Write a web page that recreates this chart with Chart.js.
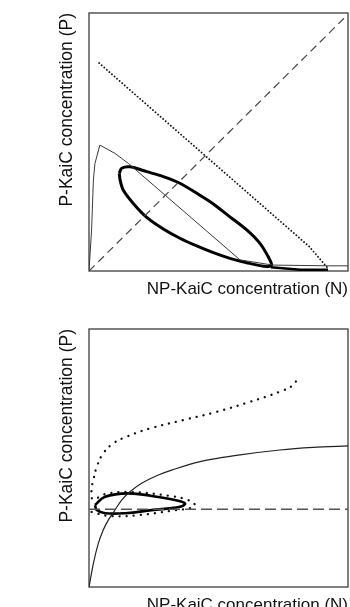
<!DOCTYPE html>
<html><head><meta charset="utf-8">
<script src="https://cdn.jsdelivr.net/npm/chart.js@4.4.1/dist/chart.umd.min.js"></script>
<style>
html,body{margin:0;padding:0;background:#fff;overflow:hidden;width:350px;height:607px;}
canvas{position:absolute;left:0;}
#c1{top:0}
#c2{top:316px}
</style></head><body>
<canvas id="c1" width="350" height="300"></canvas>
<canvas id="c2" width="350" height="300"></canvas>
<script>
const xTitle = 'NP-KaiC concentration (N)';
const yTitle = 'P-KaiC concentration (P)';

// ---- Top panel (N on x, P on y, 0-100 relative units) ----
const topDiagN = [0, 99];
const topDiagP = [0, 98.5];
const topDotN = [3.9, 85, 92.3];
const topDotP = [80.6, 9.5, 1.0];
const topThinN = [0, 1.0, 1.7, 2.3, 4.2, 10.0, 15.2, 58.3, 70.9, 93, 100];
const topThinP = [0, 15.9, 35.3, 41.7, 48.8, 45.6, 41.7, 4.3, 2.3, 2.0, 2.0];
const topLoopN = [11.7, 12.6, 15.8, 22.3, 28.7, 35.1, 41.6, 48.0, 54.4, 60.9, 66.0, 69.2, 70.5, 68.6, 60.9, 54.4, 48.0, 41.6, 35.1, 28.7, 22.3, 17.1, 13.2, 12.0, 11.7];
const topLoopP = [37.9, 39.8, 40.4, 38.5, 36.6, 34.0, 30.1, 26.0, 21.0, 15.9, 10.7, 5.5, 2.3, 1.7, 3.2, 4.9, 7.1, 9.7, 12.7, 16.3, 20.8, 26.2, 31.4, 35.3, 37.9];
const topTailN = [70.2, 81.5, 92.3];
const topTailP = [1.5, 0.5, 0.5];

// ---- Bottom panel ----
const botDashN = [0, 100];
const botDashP = [30.1, 30.1];
const botThinN = [0, 1.7, 3.6, 5.5, 7.5, 10.0, 12.6, 15.8, 20.3, 26.8, 31.9, 42.9, 58.3, 73.7, 86.6, 100];
const botThinP = [0, 9.2, 16.9, 22.1, 26.0, 29.8, 33.7, 36.9, 40.2, 43.4, 45.3, 48.6, 51.2, 53.1, 54.1, 54.7];
const botLoopN = [2.3, 6.2, 15.2, 24.2, 33.2, 37.1, 35.1, 24.2, 13.9, 6.2, 3.0, 2.3];
const botLoopP = [31.8, 35.0, 36.3, 35.3, 33.7, 32.4, 31.1, 29.8, 28.6, 28.6, 29.8, 31.8];
const botDotN = [1.0, 8.1, 19.7, 31.3, 39.0, 40.9, 38.3, 31.3, 15.8, 6.2, 1.5, 1.0, 1.7, 3.0, 5.5, 9.4, 14.6, 23.6, 36.4, 49.3, 62.2, 73.7, 78.9, 80.4];
const botDotP = [29.1, 27.5, 27.9, 29.5, 30.6, 31.8, 33.7, 35.3, 36.8, 36.0, 34.0, 38.0, 41.5, 46.6, 51.8, 55.7, 58.3, 61.5, 64.7, 67.9, 71.8, 75.7, 78.3, 80.6];

const zip = (a, b) => a.map((v, i) => ({x: v, y: b[i]}));
const FONT = '"Liberation Sans", Arial, Helvetica, sans-serif';

const framePlugin = {
  id: 'frame',
  beforeDatasetsDraw(chart) {
    const {ctx, chartArea: a} = chart;
    ctx.save();
    ctx.strokeStyle = '#4a4a4a';
    ctx.lineWidth = 1.4;
    ctx.strokeRect(a.left, a.top, a.right - a.left, a.bottom - a.top);
    ctx.restore();
  }
};

function scales() {
  return {
    x: {
      type: 'linear', min: 0, max: 100,
      ticks: {display: false}, grid: {display: false, drawTicks: false}, border: {display: false},
      title: {display: true, text: xTitle, align: 'end', color: '#111', font: {family: FONT, size: 17}, padding: {top: 0, bottom: 0}},
      afterFit(s) { s.height = 29; }
    },
    y: {
      type: 'linear', min: 0, max: 100,
      ticks: {display: false}, grid: {display: false, drawTicks: false}, border: {display: false},
      title: {display: true, text: yTitle, align: 'end', color: '#111', font: {family: FONT, size: 17.5}, padding: {top: 57, bottom: 0}},
      afterFit(s) { s.width = 89; }
    }
  };
}

function line(data, o) {
  return Object.assign({data, showLine: true, pointRadius: 0, fill: false, tension: 0, borderColor: '#000', borderWidth: 1}, o);
}

function make(id, datasets) {
  new Chart(document.getElementById(id), {
    type: 'scatter',
    data: {datasets},
    options: {
      responsive: false, animation: false, events: [],
      layout: {padding: {left: 0, right: 2, top: 13, bottom: 0}},
      plugins: {legend: {display: false}, tooltip: {enabled: false}},
      scales: scales()
    },
    plugins: [framePlugin]
  });
}

make('c1', [
  line(zip(topDiagN, topDiagP), {borderColor: '#444', borderWidth: 1.2, borderDash: [8, 5]}),
  line(zip(topDotN, topDotP), {borderColor: '#111', borderWidth: 1.8, borderDash: [0.1, 3.3], borderCapStyle: 'round'}),
  line(zip(topThinN, topThinP), {borderColor: '#3a3a3a', borderWidth: 1}),
  line(zip(topLoopN, topLoopP), {borderColor: '#000', borderWidth: 3, tension: 0.3}),
  line(zip(topTailN, topTailP), {borderColor: '#000', borderWidth: 2.5})
]);

make('c2', [
  line(zip(botDashN, botDashP), {borderColor: '#555', borderWidth: 1.5, borderDash: [11, 5]}),
  line(zip(botDotN, botDotP), {borderColor: '#111', borderWidth: 2.3, borderDash: [0.1, 7], borderCapStyle: 'round', tension: 0.4}),
  line(zip(botThinN, botThinP), {borderColor: '#222', borderWidth: 1.2, tension: 0.3}),
  line(zip(botLoopN, botLoopP), {borderColor: '#000', borderWidth: 2.6, tension: 0.4})
]);
</script>
</body></html>
